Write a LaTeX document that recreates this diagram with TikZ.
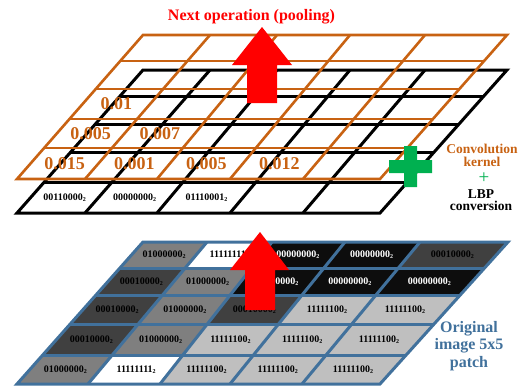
\documentclass[tikz,border=0pt]{standalone}
\usepackage{fontspec}
\setmainfont{Liberation Serif}
\usetikzlibrary{calc}
\definecolor{cOr}{RGB}{200,98,18}
\definecolor{cBl}{RGB}{65,113,156}
\definecolor{cGr}{RGB}{0,176,80}
\definecolor{cRd}{RGB}{255,0,0}
\definecolor{cK}{RGB}{13,13,13}
\definecolor{cD}{RGB}{64,64,64}
\definecolor{cG}{RGB}{127,127,127}
\definecolor{cL}{RGB}{191,191,191}
\definecolor{cW}{RGB}{255,255,255}
\newcommand{\mkgrid}[4]{%
  \foreach \i in {0,...,5}{%
    \foreach \j in {0,...,5}{%
      \pgfmathsetmacro{\xt}{{#2}[\i]}%
      \pgfmathsetmacro{\xb}{{#3}[\i]}%
      \pgfmathsetmacro{\yj}{{#4}[\j]}%
      \pgfmathsetmacro{\ya}{{#4}[0]}%
      \pgfmathsetmacro{\yb}{{#4}[5]}%
      \pgfmathsetmacro{\tt}{(\yj-\ya)/(\yb-\ya)}%
      \pgfmathsetmacro{\xx}{\xt+(\xb-\xt)*\tt}%
      \coordinate (#1-\i-\j) at (\xx,\yj);
    }%
  }%
}
\newcommand{\bsub}{\raisebox{-0.8pt}{\fontsize{6}{6}\selectfont 2}}
\begin{document}
\begin{tikzpicture}[x=1pt,y=-1pt,
  bin/.style={font=\bfseries\fontsize{10}{10}\selectfont, inner sep=0pt},
  num/.style={font=\bfseries\fontsize{18}{18}\selectfont, text=cOr, inner sep=0pt},
  ogrid/.style={draw=cOr, line width=2.6pt},
  kgrid/.style={draw=black, line width=3pt},
  bgrid/.style={draw=cBl, line width=3pt},
  bigarrow/.style={fill=cRd},
]
\useasboundingbox (0,0) rectangle (521,388);

% ---------- bottom grid (original image patch) ----------
\mkgrid{B}{143,207,272,345,420,508}{17,88,160,230,302,380}{242,268,295,324,355,384}
\foreach \i/\j/\fc/\lab/\txc in {
  0/0/cG/01000000/black, 1/0/cW/11111111/black, 2/0/cK/00000000/white, 3/0/cK/00000000/white, 4/0/cD/00010000/black,
  0/1/cD/00010000/black, 1/1/cG/01000000/black, 2/1/cK/00000000/white, 3/1/cK/00000000/white, 4/1/cK/00000000/white,
  0/2/cD/00010000/black, 1/2/cG/01000000/black, 2/2/cD/00010000/black, 3/2/cL/11111100/black, 4/2/cL/11111100/black,
  0/3/cD/00010000/black, 1/3/cG/01000000/black, 2/3/cL/11111100/black, 3/3/cL/11111100/black, 4/3/cL/11111100/black,
  0/4/cG/01000000/black, 1/4/cW/11111111/black, 2/4/cL/11111100/black, 3/4/cL/11111100/black, 4/4/cL/11111100/black}{
  \pgfmathtruncatemacro{\ii}{\i+1}
  \pgfmathtruncatemacro{\jj}{\j+1}
  \fill[\fc] (B-\i-\j) -- (B-\ii-\j) -- (B-\ii-\jj) -- (B-\i-\jj) -- cycle;
  \node[bin, text=\txc] (bt-\i-\j) at ($(B-\i-\j)!0.5!(B-\ii-\jj)$) {\lab\bsub};
}
\foreach \i in {1,...,4} \draw[bgrid] (B-\i-0) -- (B-\i-5);
\foreach \j in {1,...,4} \draw[bgrid] (B-0-\j) -- (B-5-\j);
\draw[bgrid] (B-0-0) -- (B-5-0) -- (B-5-5) -- (B-0-5) -- cycle;

% ---------- black grid (LBP layer) ----------
\mkgrid{K}{143,210,277,350,425,507}{17,85,157,230,303,380}{70,96,124,152,182,213}
\fill[white] (K-0-0) -- (K-5-0) -- (K-5-5) -- (K-0-5) -- cycle;
\foreach \i in {1,...,4} \draw[kgrid] (K-\i-0) -- (K-\i-5);
\foreach \j in {1,...,4} \draw[kgrid] (K-0-\j) -- (K-5-\j);
\draw[kgrid] (K-0-0) -- (K-5-0) -- (K-5-5) -- (K-0-5) -- cycle;
\node[bin] (kl0) at ($(K-0-4)!0.5!(K-1-5)$) {00110000\bsub};
\node[bin] (kl1) at ($(K-1-4)!0.5!(K-2-5)$) {00000000\bsub};
\node[bin] (kl2) at ($(K-2-4)!0.5!(K-3-5)$) {01110001\bsub};

% ---------- orange grid (convolution kernel) ----------
\mkgrid{O}{143,210,277,350,425,507}{17,85,157,230,303,380}{35,61,89,119,148,179}
\foreach \i in {1,...,4} \draw[ogrid] (O-\i-0) -- (O-\i-5);
\foreach \j in {1,...,4} \draw[ogrid] (O-0-\j) -- (O-5-\j);
\draw[ogrid] (O-0-0) -- (O-5-0) -- (O-5-5) -- (O-0-5) -- cycle;
\foreach \i/\j/\lab in {0/2/0.01, 0/3/0.005, 1/3/0.007, 0/4/0.015, 1/4/0.001, 2/4/0.005, 3/4/0.012}{
  \pgfmathtruncatemacro{\ii}{\i+1}
  \pgfmathtruncatemacro{\jj}{\j+1}
  \node[num] (on-\i-\j) at ($(O-\i-\j)!0.5!(O-\ii-\jj)$) {\lab};
}

% ---------- arrows ----------
\fill[bigarrow] (262,27) -- (292,65) -- (277,65) -- (277,103) -- (247,103) -- (247,65) -- (232,65) -- cycle;
\fill[bigarrow] (260,232) -- (289,270) -- (275,270) -- (275,310) -- (245,310) -- (245,270) -- (230,270) -- cycle;

% ---------- green plus ----------
\fill[cGr] (404,146) -- (417,146) -- (417,160) -- (432,160) -- (432,173) -- (417,173) -- (417,187) -- (404,187) -- (404,173) -- (389,173) -- (389,160) -- (404,160) -- cycle;

% ---------- texts ----------
\node[font=\bfseries\fontsize{16}{16}\selectfont, text=cRd, anchor=base, inner sep=0pt] (title) at (251.5,20.5) {Next operation (pooling)};
\node[font=\bfseries\fontsize{13.5}{13}\selectfont, text=cOr, align=center, inner sep=0pt] (conv) at (482,155) {Convolution\\kernel};
\node[font=\fontsize{19}{19}\selectfont, text=cGr, inner sep=0pt] (plus) at (484,178) {+};
\node[font=\bfseries\fontsize{13.5}{12}\selectfont, align=center, inner sep=0pt] (lbp) at (481,200) {LBP\\conversion};
\node[font=\bfseries\fontsize{16}{17.5}\selectfont, text=cBl, align=center, inner sep=0pt] (orig) at (469,346) {Original\\image 5x5\\patch};
\end{tikzpicture}
\end{document}
